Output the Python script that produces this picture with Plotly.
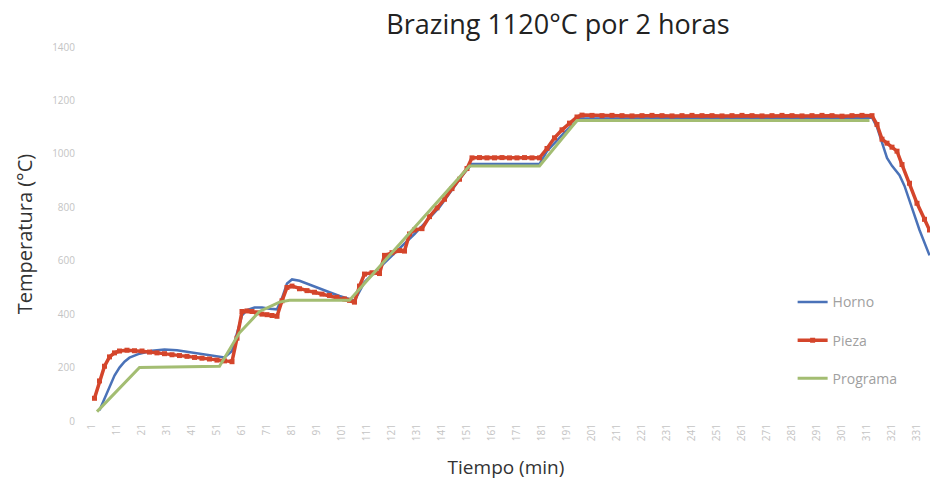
import plotly.graph_objects as go

# Horno (furnace) temperature, minutes / °C
horno_t = [4, 6, 8, 10, 12, 14, 16, 20, 25, 30, 35, 40, 45, 50, 54, 57, 59, 61, 63, 66, 69, 72, 75,
           77, 79, 81, 84, 88, 92, 96, 100, 104, 106, 110, 120, 130, 140, 150, 153, 180, 183, 190,
           196, 313, 315, 317, 319, 321, 324, 326, 329, 332, 336]
horno_v = [40, 85, 130, 170, 200, 222, 237, 252, 263, 268, 265, 258, 250, 243, 238, 262, 330, 395,
           415, 425, 425, 420, 418, 460, 515, 530, 525, 510, 495, 482, 468, 455, 450, 520, 610, 700,
           800, 930, 962, 962, 1010, 1080, 1132, 1136, 1100, 1040, 985, 955, 920, 880, 800, 715, 620]

# Pieza (part) temperature
pieza_t = [2, 4, 6, 8, 10, 12, 15, 18, 21, 24, 27, 30, 33, 36, 39, 42, 45, 48, 51, 54, 57, 59, 61,
           63, 65, 67, 69, 71, 73, 75, 77, 79, 81, 84, 87, 90, 93, 96, 99, 102, 104, 106, 108, 110,
           113, 116, 118, 121, 124, 126, 128, 130, 133, 136, 139, 142, 145, 148, 151, 153, 156, 159,
           162, 165, 168, 171, 174, 177, 180, 183, 186, 189, 192, 195, 197, 201, 205, 209, 213, 217,
           221, 225, 229, 233, 237, 241, 245, 249, 253, 257, 261, 265, 269, 273, 277, 281, 285, 289,
           293, 297, 301, 305, 309, 313, 315, 317, 319, 321, 323, 325, 328, 331, 334, 336]
pieza_v = [85, 150, 205, 240, 255, 262, 265, 263, 262, 258, 255, 252, 248, 245, 242, 238, 235, 232,
           228, 225, 222, 310, 410, 412, 410, 405, 400, 398, 395, 392, 450, 500, 505, 495, 488, 482,
           475, 470, 463, 457, 452, 445, 505, 550, 555, 552, 620, 630, 638, 636, 700, 715, 720, 765,
           798, 830, 870, 905, 945, 985, 986, 985, 985, 986, 985, 985, 986, 985, 985, 1020, 1060,
           1090, 1115, 1138, 1145, 1144, 1143, 1144, 1143, 1142, 1143, 1144, 1143, 1142, 1143, 1144,
           1143, 1143, 1142, 1143, 1144, 1143, 1142, 1143, 1144, 1143, 1142, 1143, 1144, 1143, 1141,
           1143, 1144, 1143, 1110, 1055, 1040, 1025, 1010, 960, 890, 815, 755, 715]

# Programa (set-point profile)
programa_t = [3, 20, 52, 60, 68, 76, 80, 104, 152, 180, 195, 312]
programa_v = [35, 200, 205, 330, 410, 445, 452, 452, 955, 955, 1125, 1125]

x_ticks = list(range(1, 332, 10))
x_tick_text = [str(v) for v in x_ticks]
y_ticks = [0, 200, 400, 600, 800, 1000, 1200, 1400]

fig = go.Figure()
fig.add_trace(go.Scatter(x=horno_t, y=horno_v, name="Horno", mode="lines", legendgroup="a",
                         line=dict(color="#4a72b8", width=2.5)))
fig.add_trace(go.Scatter(x=pieza_t, y=pieza_v, name="Pieza", mode="lines+markers", legendgroup="b",
                         line=dict(color="#d4452b", width=3.5),
                         marker=dict(symbol="square", size=5, color="#d4452b")))
fig.add_trace(go.Scatter(x=programa_t, y=programa_v, name="Programa", mode="lines", legendgroup="c",
                         line=dict(color="#a3bd72", width=3)))

fig.update_layout(
    width=930, height=500,
    margin=dict(l=82, r=0, t=47, b=79),
    paper_bgcolor="white", plot_bgcolor="white",
    font=dict(family="Open Sans", color="#333333"),
    title=dict(text="Brazing 1120°C por 2 horas", x=0.6, xanchor="center",
               y=0.95, yanchor="middle", font=dict(size=27, color="#222222")),
    legend=dict(x=0.838, y=0.36, xanchor="left", yanchor="top", traceorder="grouped",
                tracegroupgap=17, bgcolor="rgba(0,0,0,0)",
                font=dict(size=14, color="#a0a0a0")),
    showlegend=True,
)
fig.update_xaxes(range=[-3, 336.2], tickmode="array", tickvals=x_ticks, ticktext=x_tick_text,
                 tickangle=-90, tickfont=dict(size=10, color="#c4c4c4"),
                 showgrid=False, zeroline=False, showline=False,
                 title=dict(text="Tiempo (min)", font=dict(size=19, color="#333333"), standoff=20))
fig.update_yaxes(range=[0, 1400], tickmode="array", tickvals=y_ticks,
                 tickfont=dict(size=10, color="#c4c4c4"), ticklabelstandoff=6,
                 showgrid=False, zeroline=False, showline=False,
                 title=dict(text="Temperatura (°C)", font=dict(size=20, color="#333333"), standoff=14))

fig.write_html("out.html")
